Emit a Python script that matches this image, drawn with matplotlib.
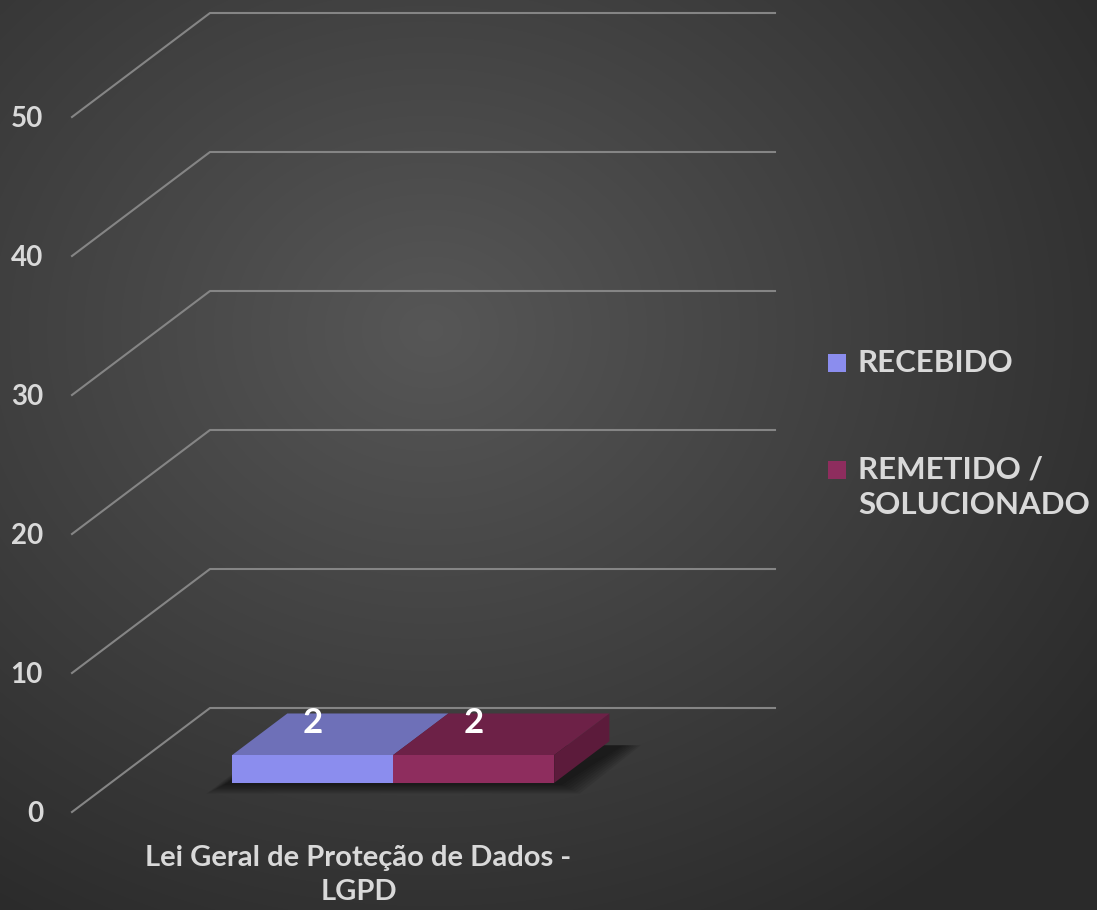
import numpy as np
import matplotlib
matplotlib.use("Agg")
import matplotlib.pyplot as plt
from matplotlib.patches import Polygon, Rectangle
from matplotlib.transforms import IdentityTransform

# data
categories = ["Lei Geral de Proteção de Dados -\nLGPD"]
series_names = ["RECEBIDO", "REMETIDO /\nSOLUCIONADO"]
series_values = [2, 2]
y_ticks = [0, 10, 20, 30, 40, 50]

front_colors = ["#8b8dee", "#8e2d5e"]
top_colors = ["#6e70b8", "#6d2147"]
side_colors = ["#5c1b3b", "#5c1b3b"]
text_color = "#d9d9d9"
grid_color = "#858585"

W, H, DPI = 1097, 910, 100
plt.rcParams["font.family"] = ["Lato", "DejaVu Sans"]
plt.rcParams["font.weight"] = "bold"

fig = plt.figure(figsize=(W / DPI, H / DPI), dpi=DPI)

# radial background (float rgb, no banding)
bg = fig.add_axes([0, 0, 1, 1])
yy, xx = np.mgrid[0:H, 0:W]
r = np.sqrt(((xx - 430) / 850) ** 2 + ((yy - 330) / 720) ** 2)
shade = np.clip(0.34 - 0.18 * r, 0.165, 0.34)
img = np.dstack([shade, shade, shade])
bg.imshow(img, aspect="auto", extent=[0, 1, 0, 1], interpolation="bilinear")
bg.set_axis_off()

# back wall axes (value axis 0..50)
ax = fig.add_axes([210 / W, (H - 708) / H, 565 / W, 695 / H])
ax.set_xlim(-0.5, 0.5)
ax.set_ylim(0, 50)
ax.set_axis_off()
ax.patch.set_alpha(0)

depth_dx, depth_dy = -138, -104  # full floor depth in pixels


def proj(x, y, f):
    px, py = ax.transData.transform((x, y))
    return px + depth_dx * f, py + depth_dy * f


fig.canvas.draw()

for v in y_ticks:
    bx, by = proj(-0.5, v, 0)
    ex, ey = proj(0.5, v, 0)
    fx, fy = proj(-0.5, v, 1)
    ax.plot([fx, bx, ex], [fy, by, ey], color=grid_color, lw=1.5,
            transform=IdentityTransform(), clip_on=False)
    fig.text(fx - 29, fy - 2, str(v), ha="right", va="center", fontsize=20,
             fontweight="bold", color=text_color, transform=IdentityTransform())

# bars
group_w = 0.57
bar_w = group_w / len(series_values)
f_front, f_back = 0.72, 0.32

# soft shadow on the floor
sx0 = -group_w / 2
sx1 = group_w / 2
for k in range(8):
    grow = k * 2.5
    p = [proj(sx0, 0, f_front), proj(sx1, 0, f_front),
         proj(sx1, 0, f_back), proj(sx0, 0, f_back)]
    p = [(p[0][0] - 8 - grow, p[0][1] - 2 - grow * 0.5),
         (p[1][0] + 8 + grow, p[1][1] - 2 - grow * 0.5),
         (p[2][0] + 14 + grow, p[2][1] - 4),
         (p[3][0] - grow, p[3][1] - 4)]
    ax.add_patch(Polygon(p, closed=True, facecolor="black", edgecolor="none",
                         alpha=0.08, transform=IdentityTransform(), clip_on=False))

for i, v in enumerate(series_values):
    x0 = -group_w / 2 + i * bar_w
    x1 = x0 + bar_w
    top = [proj(x0, v, f_front), proj(x1, v, f_front),
           proj(x1, v, f_back), proj(x0, v, f_back)]
    side = [proj(x1, 0, f_front), proj(x1, 0, f_back),
            proj(x1, v, f_back), proj(x1, v, f_front)]
    front = [proj(x0, 0, f_front), proj(x1, 0, f_front),
             proj(x1, v, f_front), proj(x0, v, f_front)]
    for poly, col in [(side, side_colors[i]), (top, top_colors[i]), (front, front_colors[i])]:
        ax.add_patch(Polygon(poly, closed=True, facecolor=col, edgecolor="none",
                             transform=IdentityTransform(), clip_on=False))
    lx = (front[0][0] + front[1][0]) / 2
    ly = top[2][1] - 10
    fig.text(lx, ly, str(v), ha="center", va="center", fontsize=25,
             fontweight="bold", color="white", transform=IdentityTransform())

# category label
cx, cy = proj(0, 0, 1)
fig.text(cx + 4, cy - 33, categories[0], ha="center", va="top", fontsize=21,
         fontweight="bold", color=text_color, linespacing=1.4,
         transform=IdentityTransform())

# legend
legend_y = [H - 363, H - 470]
for name, col, ly in zip(series_names, front_colors, legend_y):
    fig.patches.append(Rectangle((828, ly - 9), 18, 18, facecolor=col,
                                 edgecolor="none", transform=IdentityTransform()))
    fig.text(858, ly + 14, name, ha="left", va="top", fontsize=22.5,
             fontweight="bold", color=text_color, linespacing=1.3,
             transform=IdentityTransform())

fig.savefig("out.png", dpi=DPI)
